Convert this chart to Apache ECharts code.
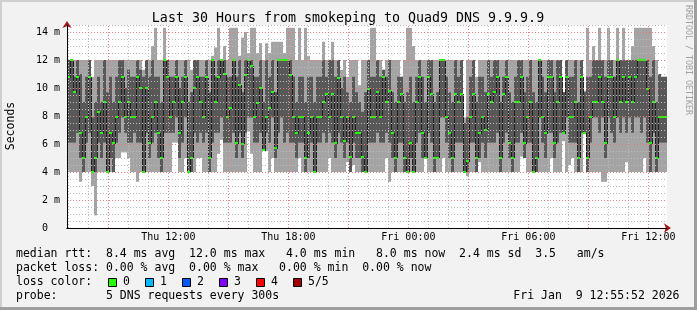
<!DOCTYPE html>
<html><head><meta charset="utf-8">
<script src="https://cdn.jsdelivr.net/npm/echarts@6/dist/echarts.min.js"></script>
<style>html,body{margin:0;padding:0;background:#f2f2f2}#c{width:697px;height:310px}</style>
</head><body><div id="c"></div>
<script>
// time axis: hours after Thu 00:00 ; first sample 06:56, 9-minute columns
const T0 = 6.931;
const STEP = 0.15;
const Y_MAX = 14.5;

// smoke: min ping, 2nd ping, median, 4th ping, max ping (ms)
const lo = [4,4,4,4,3.3,4,4,4,3,0.9, 4,4,4,4,4,4,5,5,5.4,5.4, 5,4,4,3.3,4,4,4,4,4,4, 4,4,4,4,4,6.1,6.1,4,4,5, 4,4,4,5,5,4,4,4,4,4,
  5.3,6.3,4,4,4,4,4,4,4,4, 6.9,5.3,4,4,4,5.5,5.5,4,5,4, 4,4,4,4,4,4,4,5,4,4, 4,4,4,4,4,4,4,5,4,4, 4,4,4,4.7,4,4.5,4,4,4,4,
  4,4,4,4,4,4,5,3.3,4,4, 4,4,4,4,4,4,4,4,4,5, 4,4,4,4,4,5,4,4,4,4, 4,4,4,3.7,4,4,4,4.7,4,4, 4,4,4,4,4,4,4,4,4,4,
  4,5.1,5,4,4,4,4,4,4,4, 4,5,4,4,4,6.2,4,4.5,5,4, 4,4,6.7,4,4,4,4,4,3.3,3.3, 4,4,4,4,4,4,4.7,4,4,4, 4,4,5,4,4,4,4,4,4,4];
const q1 = [6.1,6.1,6.1,6.8,5,4,6.1,6.8,4,4, 6.1,5,6.1,4,5,4,6.1,6.8,7.9,6.8, 6.1,6.1,6.8,6.1,6.1,4,6.8,5,6.1,6.8, 5,4,6.8,6.8,6.8,6.8,7.9,5,6.1,7.9, 4,4,6.8,6.1,6.8,6.1,6.8,4,6.1,6.8,
  6.8,7.9,6.1,6.1,6.1,6.8,5,6.8,5,6.8, 7.9,7.9,6.1,6.1,6.8,5.6,6.8,6.1,7.9,5, 6.8,7.9,6.1,6.8,6.1,6.1,5,6.1,6.1,4, 5,6.1,4,6.1,6.1,6.8,6.1,6.8,6.1,5, 6.8,6.1,5,6.1,4,6.1,5,5,4,4,
  6.1,6.1,6.1,6.8,6.1,6.1,6.8,6.1,5,4, 6.1,6.1,4,4,5,4,6.1,6.8,5,5, 6.8,6.1,4,5,7.9,7.9,6.1,5,4,6.1, 6.1,6.1,4,4,6.1,6.1,4,5,6.1,5, 6.1,6.1,6.1,6.8,4,6.1,6.8,5,4,6.1,
  6.1,6.8,5,6.1,6.1,4,4,7.9,6.1,5, 6.8,6.8,5,6.1,6.8,6.8,7.9,6.1,6.1,6.1, 4,6.8,6.8,4,6.1,7.9,7.9,6.8,7.9,5, 7.9,6.8,6.1,7.9,6.8,7.9,6.8,7.9,6.8,7.9, 7.9,6.8,7.9,6.1,4,6.8,4,6.1,6.1,6.1];
const med = [10.8,12,9.7,10.8,6.8,5,7.9,10.8,4,5, 8.3,6.8,9,4,6.8,6.1,7.9,9,10.8,7.9, 9,7.9,7.9,10.8,10,4,10,6.1,7.9,9, 6.8,5,12,10.8,7.9,9,10.8,6.8,9,10.8, 4,5,10,10.8,9,7.9,10.8,5,12,9,
  10.8,12,11,7.9,8.6,12,6.1,10.2,6,10.9, 12,11.6,7.9,8.9,10,5.6,7.9,8.6,9.7,5.7, 12,12,12,12,10.9,7.9,6.8,7.9,7.9,5, 6.8,7.9,4,7.9,7.9,9,9.6,7.9,9.6,6.1, 10.7,7.9,6.2,7.9,5.1,7.9,6.8,6.8,5.1,4,
  9.9,7.9,7.9,9.7,7.9,10.8,9,9.8,6.8,5, 9,9.6,5,4,6.1,4,9,10.8,6.8,5, 10.8,9.6,5,5,12,12,7.9,6.8,5,9.6, 9,9.6,4,4.8,7.9,9.6,5,6.8,7.9,7, 9.6,9,9.7,10.8,5,9.6,10.8,6.1,5,9,
  9,10.8,6.1,7.9,9,4,5,12,7.9,6.8, 10.8,10.8,6.1,9,10.8,6.8,10.8,7.9,7.9,9, 5,10.8,6.8,5,7.9,9,9,10.8,9,6.1, 10.8,10.8,7.9,12,9,10.8,9,10.8,9,10.8, 12,12,12,9.9,6.1,9,5,7.9,7.9,7.9];
const q3 = [12,12,10.8,12,11,9,10.8,12,7.9,9, 10.8,9,12,9.7,10.8,9,10.8,12,12,10, 11.3,10.8,10.8,12,11.3,10.8,12,10.8,12,10.8, 10.8,9,12,12,10.8,10.8,12,10,10.8,12, 9,9.7,12,12,10.8,10.8,12,9.7,12,10.8,
  12,12,12,10.8,10.8,12,10.8,12,9.7,12, 12,12,10.8,10.8,12,9,12,10.8,12,9.7, 12,12,12,12,12,10.8,9,10.8,10.8,9, 10.8,10.8,9,10.8,10.8,12,10.8,12,12,10.8, 12,10,10.8,9.7,9,10.8,9.7,9,8.3,9.7,
  12,10.8,10.8,12,10.8,11.3,10.8,12,9.7,9, 10.8,10.8,9,9.7,10.8,9,10.8,12,10.8,9, 12,12,9,9.7,12,12,10.8,9.7,9,12, 10.8,12,7.5,7.9,10.8,12,9,10.8,10.8,9.7, 12,10.8,12,12,9,10.8,12,9.7,9,10.8,
  12,12,9.7,10.8,12,9.7,9,12,10.8,9.7, 12,12,9.7,12,12,9.7,12,10.8,10.8,12, 9,12,9.7,10.8,10.8,12,12,12,12,10.8, 12,12,10.8,12,12,12,12,12,12,12, 12,12,12,12,10.8,12,9,11,10.8,10.8];
const hi = [12,12,12,12,12,12,12,12,10.8,12, 12,12,12,12,12,12,12,12,12,12, 12,12,12,12,12,11.3,12,12,13,14.3, 12,12,14.3,12,12,12,12,12,12,12, 12,11.3,12,12,12,12,12,12,12.3,12.9,
  14.3,12,13,12,14.3,14.3,14.3,12.3,13.6,14, 12.5,14.3,14.3,12.5,13.2,12,13.2,12.5,13.3,13.3, 13.3,13.3,12.5,14.3,14.3,14.3,12,14.3,12,14.3, 12.3,12,12,12,12,13.3,12,12,13.3,12, 12,11.3,12,10.8,12,12,12,10.2,12,12,
  12,14.3,14.3,12,12,11.3,12,12,12,12, 12,10.8,12,14.3,14.3,13,12,12,12,12, 12,12,12,12,12,12,12,12,12,12, 12,12,7.9,12,12,12,10.8,12,12,12, 12,12,12,12,12,12,12,12,12,12,
  12,12,12,12,12,12,12,12,12,12, 12,12,12,12,12,9.7,12,12,12,12, 12,12,9.8,14.3,12,13,12,14.3,12,12, 14.3,12,12,14.3,12,14.3,12,12,13,14.3, 14.3,14.3,14.3,14.3,14.3,13,12,11,10.8,10.8];

const xLabelHours = [12, 18, 24, 30, 36];
const xLabelText = ['Thu 12:00', 'Thu 18:00', 'Fri 00:00', 'Fri 06:00', 'Fri 12:00'];
const lossLabels = ['0', '1', '2', '3', '4', '5/5'];
const lossColors = ['#26ff00', '#00b8ff', '#0059ff', '#7e00ff', '#ff0000', '#a00000'];
const legendLines = [
  'median rtt:  8.4 ms avg  12.0 ms max   4.0 ms min   8.0 ms now  2.4 ms sd  3.5   am/s',
  'packet loss: 0.00 % avg  0.00 % max   0.00 % min  0.00 % now',
  'loss color:',
  'probe:       5 DNS requests every 300s'
];
const stamp = 'Fri Jan  9 12:55:52 2026';
const title = 'Last 30 Hours from smokeping to Quad9 DNS 9.9.9.9';

const MONO = '"DejaVu Sans Mono", monospace';
const rows = lo.map((v, k) => [T0 + k * STEP, T0 + (k + 1) * STEP, v, q1[k], med[k], q3[k], hi[k], k > 0 ? med[k - 1] : med[0]]);

const hoursMinor = [], hoursMajor = [];
for (let h = 7; h <= 36; h++) (h % 3 === 0 ? hoursMajor : hoursMinor).push([h, 0]);
const valMinor = [], valMajor = [];
for (let v = 0.5; v <= 14.5; v += 0.5) (v % 2 === 0 ? valMajor : valMinor).push([T0, v]);

function vGrid(color) {
  return function (params, api) {
    const x = Math.round(api.coord([api.value(0), 0])[0]) + 0.5;
    const yb = api.coord([T0, 0])[1], yt = api.coord([T0, Y_MAX])[1];
    return { type: 'line', silent: true, shape: { x1: x, y1: yb, x2: x, y2: yt },
      style: { stroke: color, lineWidth: 1, lineDash: [1, 2] } };
  };
}
function hGrid(color) {
  return function (params, api) {
    const y = Math.round(api.coord([T0, api.value(1)])[1]) + 0.5;
    const xl = api.coord([T0, 0])[0], xr = api.coord([T0 + 30, 0])[0];
    return { type: 'line', silent: true, shape: { x1: xl, y1: y, x2: xr, y2: y },
      style: { stroke: color, lineWidth: 1, lineDash: [1, 2] } };
  };
}

const chart = echarts.init(document.getElementById('c'), null, { renderer: 'canvas' });

const graphics = [
  { type: 'rect', shape: { x: 0, y: 0, width: 697, height: 2 }, style: { fill: '#cfcfcf' }, silent: true },
  { type: 'rect', shape: { x: 0, y: 0, width: 2, height: 310 }, style: { fill: '#cfcfcf' }, silent: true },
  { type: 'rect', shape: { x: 0, y: 307, width: 697, height: 3 }, style: { fill: '#9e9e9e' }, silent: true },
  { type: 'rect', shape: { x: 694, y: 0, width: 3, height: 310 }, style: { fill: '#9e9e9e' }, silent: true },
  { type: 'text', x: 348, y: 19, style: { text: title, font: '13.3px ' + MONO, fill: '#000', textAlign: 'center', textVerticalAlign: 'middle' } },
  { type: 'text', x: 11, y: 126, rotation: Math.PI / 2, style: { text: 'Seconds', font: '11.5px ' + MONO, fill: '#000', textAlign: 'center', textVerticalAlign: 'middle' } },
  { type: 'text', x: 688, y: 5, rotation: -Math.PI / 2, style: { text: 'RRDTOOL / TOBI OETIKER', font: '8.3px ' + MONO, fill: '#a0a0a0', textAlign: 'left', textVerticalAlign: 'middle' } },
  { type: 'text', x: 679.5, y: 296, style: { text: stamp, font: '11.5px ' + MONO, fill: '#000', textAlign: 'right', textVerticalAlign: 'middle' } }
];
const lineY = [254.5, 268.5, 282.5, 296];
legendLines.forEach((t, i) => graphics.push({ type: 'text', x: 16, y: lineY[i],
  style: { text: t, font: '11.5px ' + MONO, fill: '#000', textAlign: 'left', textVerticalAlign: 'middle' } }));
lossLabels.forEach((t, i) => {
  const bx = 108.5 + i * 37;
  graphics.push({ type: 'rect', shape: { x: bx, y: 278.5, width: 8, height: 8 }, style: { fill: lossColors[i], stroke: '#000', lineWidth: 1 } });
  graphics.push({ type: 'text', x: bx + 14.5, y: 282.5, style: { text: t, font: '11.5px ' + MONO, fill: '#000', textAlign: 'left', textVerticalAlign: 'middle' } });
});

chart.setOption({
  animation: false,
  backgroundColor: '#f2f2f2',
  grid: { left: 67, right: 30, top: 25, bottom: 82, show: true, backgroundColor: '#ffffff', borderWidth: 0 },
  xAxis: [{
    type: 'value', min: T0, max: T0 + 30, z: 12,
    axisLine: { show: true, onZero: false, lineStyle: { color: '#000', width: 1 } },
    axisTick: { show: false },
    splitLine: { show: false },
    axisLabel: { customValues: xLabelHours, margin: 4, color: '#000', fontFamily: 'DejaVu Sans Mono', fontSize: 10,
      formatter: v => { const i = xLabelHours.indexOf(Math.round(v)); return i >= 0 ? xLabelText[i] : ''; } }
  }, {
    type: 'value', min: T0, max: T0 + 30, position: 'bottom', z: 11,
    axisLine: { show: true, onZero: false, symbol: ['none', 'arrow'], symbolSize: [7, 7], symbolOffset: [0, 4], lineStyle: { color: '#a01818', width: 1 } },
    axisTick: { show: false }, axisLabel: { show: false }, splitLine: { show: false }
  }],
  yAxis: [{
    type: 'value', min: 0, max: Y_MAX, interval: 2, z: 12,
    axisLine: { show: true, lineStyle: { color: '#000', width: 1 } },
    axisTick: { show: false },
    splitLine: { show: false },
    axisLabel: { margin: 7, color: '#000', fontFamily: 'DejaVu Sans Mono', fontSize: 10,
      formatter: v => (v % 2 !== 0 ? '' : (v === 0 ? '0  ' : v + ' m')) }
  }, {
    type: 'value', min: 0, max: Y_MAX, position: 'left', z: 11,
    axisLine: { show: true, symbol: ['none', 'arrow'], symbolSize: [7, 7], symbolOffset: [0, 4], lineStyle: { color: '#a01818', width: 1 } },
    axisTick: { show: false }, axisLabel: { show: false }, splitLine: { show: false }
  }],
  graphic: graphics,
  series: [
    {
      type: 'custom', name: 'smoke', z: 2, clip: true, data: rows,
      encode: { x: [0, 1], y: [2, 6] },
      renderItem: (params, api) => {
        const x0 = Math.round(api.coord([api.value(0), 0])[0]);
        const x1 = Math.round(api.coord([api.value(1), 0])[0]);
        const y = v => api.coord([T0, v])[1];
        return { type: 'group', children: [
          { type: 'rect', shape: { x: x0, y: y(api.value(6)), width: x1 - x0, height: y(api.value(2)) - y(api.value(6)) }, style: { fill: '#a4a4a4' } },
          { type: 'rect', shape: { x: x0, y: y(api.value(5)), width: x1 - x0, height: y(api.value(3)) - y(api.value(5)) }, style: { fill: '#585858' } }
        ] };
      }
    },
    {
      type: 'custom', name: 'medianStep', z: 3, data: rows,
      encode: { x: 0, y: 4 },
      renderItem: (params, api) => {
        const x0 = Math.round(api.coord([api.value(0), 0])[0]);
        const ya = Math.round(api.coord([T0, api.value(4)])[1]);
        const yb = Math.round(api.coord([T0, api.value(7)])[1]);
        return { type: 'rect', shape: { x: x0, y: Math.min(ya, yb), width: 1, height: Math.abs(ya - yb) + 1 }, style: { fill: '#202020' } };
      }
    },
    {
      type: 'custom', name: 'medianMark', z: 4, data: rows,
      encode: { x: [0, 1], y: 4 },
      renderItem: (params, api) => {
        const x0 = Math.round(api.coord([api.value(0), 0])[0]);
        const x1 = Math.round(api.coord([api.value(1), 0])[0]);
        const ym = Math.round(api.coord([T0, api.value(4)])[1]);
        return { type: 'rect', shape: { x: x0, y: ym - 1, width: x1 - x0, height: 2 }, style: { fill: '#20ff00' } };
      }
    },
    { type: 'custom', z: 5, data: hoursMinor, renderItem: vGrid('#bcbcbc'), silent: true },
    { type: 'custom', z: 5, data: valMinor, renderItem: hGrid('#bcbcbc'), silent: true },
    { type: 'custom', z: 6, data: hoursMajor, renderItem: vGrid('#e08080'), silent: true },
    { type: 'custom', z: 6, data: valMajor, renderItem: hGrid('#e08080'), silent: true }
  ]
});
</script></body></html>
